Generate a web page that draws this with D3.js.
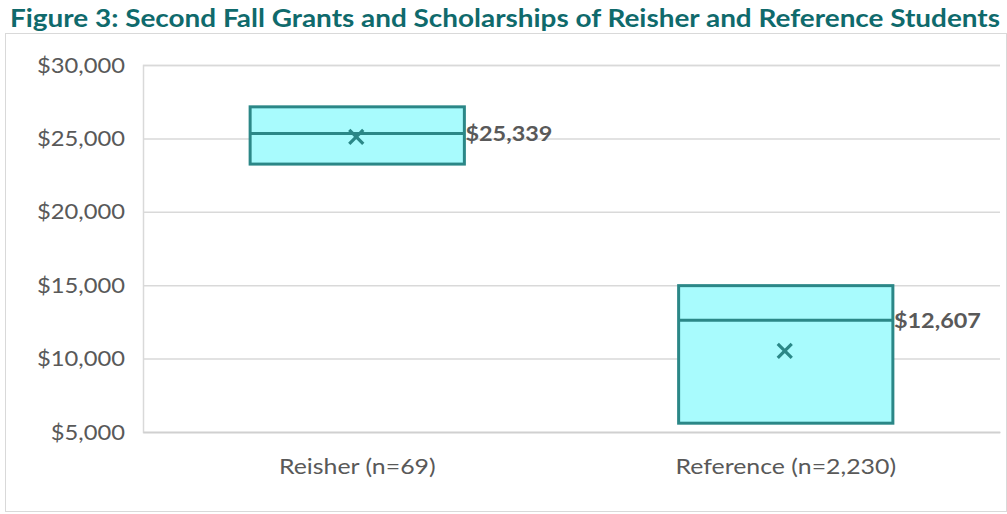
<!DOCTYPE html>
<html>
<head>
<meta charset="utf-8">
<script src="https://cdn.jsdelivr.net/npm/d3@7"></script>
<style>
  body { margin: 0; background: #fff; }
  text { font-family: Lato, "Open Sans", sans-serif; }
</style>
</head>
<body>
<div id="chart"></div>
<script>
// Data
const categories = ["Reisher (n=69)", "Reference (n=2,230)"];
const q1Values = [23250, 5600];
const medianValues = [25339, 12607];
const q3Values = [27150, 14970];
const meanValues = [25100, 10520];
const medianLabels = ["$25,339", "$12,607"];
const yTicks = [5000, 10000, 15000, 20000, 25000, 30000];
const titleText = "Figure 3: Second Fall Grants and Scholarships of Reisher and Reference Students";

const W = 1007, H = 514;
const margin = {top: 65, right: 7, bottom: 82, left: 143};
const width = W - margin.left - margin.right,
      height = H - margin.top - margin.bottom;

// stretch a text horizontally (Calibri in the original is wider than Lato)
function widen(sel, k) {
  sel.each(function() {
    const len = this.getComputedTextLength();
    d3.select(this)
      .attr("textLength", len * k)
      .attr("lengthAdjust", "spacingAndGlyphs");
  });
}

const svg = d3.select("#chart").append("svg")
  .attr("width", W)
  .attr("height", H);

// Title
const title = svg.append("text")
  .attr("x", 10)
  .attr("y", 26.5)
  .attr("fill", "#0f6a6c")
  .attr("font-weight", "bold")
  .attr("font-size", 24.5)
  .text(titleText);
title.attr("textLength", 990).attr("lengthAdjust", "spacingAndGlyphs");

// Chart border
svg.append("rect")
  .attr("x", 5.5).attr("y", 33.5)
  .attr("width", 1001).attr("height", 478)
  .attr("fill", "none")
  .attr("stroke", "#d9d9d9")
  .attr("stroke-width", 1);

const g = svg.append("g")
  .attr("transform", `translate(${margin.left},${margin.top})`);

const x = d3.scaleBand()
  .domain(categories)
  .range([0, width])
  .paddingInner(0)
  .paddingOuter(0);

const y = d3.scaleLinear()
  .domain([5000, 30000])
  .range([height, 0]);

// Y axis with gridlines
const yAxis = g.append("g")
  .call(d3.axisLeft(y)
    .tickValues(yTicks)
    .tickSize(-width)
    .tickPadding(18)
    .tickFormat(d => "$" + d3.format(",")(d)));
yAxis.select(".domain").attr("stroke", "#d9d9d9").attr("stroke-width", 1.5);
yAxis.selectAll(".tick line").attr("stroke", "#d9d9d9").attr("stroke-width", 1.5);
yAxis.selectAll(".tick text")
  .attr("fill", "#595959")
  .attr("font-size", 22)
  .call(widen, 1.08);

// X axis labels
const xAxis = g.append("g")
  .attr("transform", `translate(0,${height})`)
  .call(d3.axisBottom(x).tickSize(0).tickPadding(26));
xAxis.select(".domain").attr("stroke", "#d0d0d0").attr("stroke-width", 1.5);
xAxis.selectAll(".tick text")
  .attr("fill", "#595959")
  .attr("font-size", 22)
  .call(widen, 1.13);

// Boxes
const boxW = x.bandwidth() * 0.5;
const boxes = g.selectAll(".box")
  .data(categories)
  .enter().append("g")
  .attr("class", "box");

boxes.append("rect")
  .attr("x", d => x(d) + (x.bandwidth() - boxW) / 2)
  .attr("y", (d, i) => y(q3Values[i]))
  .attr("width", boxW)
  .attr("height", (d, i) => y(q1Values[i]) - y(q3Values[i]))
  .attr("fill", "#a8fbfd")
  .attr("stroke", "#2b8787")
  .attr("stroke-width", 3);

boxes.append("line")
  .attr("x1", d => x(d) + (x.bandwidth() - boxW) / 2)
  .attr("x2", d => x(d) + (x.bandwidth() + boxW) / 2)
  .attr("y1", (d, i) => y(medianValues[i]))
  .attr("y2", (d, i) => y(medianValues[i]))
  .attr("stroke", "#2b8787")
  .attr("stroke-width", 3);

// Mean markers
const m = 7;
boxes.append("path")
  .attr("d", (d, i) => {
    const cx = x(d) + x.bandwidth() / 2 - 1, cy = y(meanValues[i]);
    return `M${cx - m},${cy - m}L${cx + m},${cy + m}M${cx - m},${cy + m}L${cx + m},${cy - m}`;
  })
  .attr("stroke", "#2b8787")
  .attr("stroke-width", 3.2)
  .attr("fill", "none");

// Median labels
boxes.append("text")
  .attr("x", d => x(d) + (x.bandwidth() + boxW) / 2 + 1)
  .attr("y", (d, i) => y(medianValues[i]))
  .attr("dy", "0.35em")
  .attr("fill", "#595959")
  .attr("font-weight", "bold")
  .attr("font-size", 21.5)
  .text((d, i) => medianLabels[i])
  .call(widen, 1.09);
</script>
</body>
</html>
